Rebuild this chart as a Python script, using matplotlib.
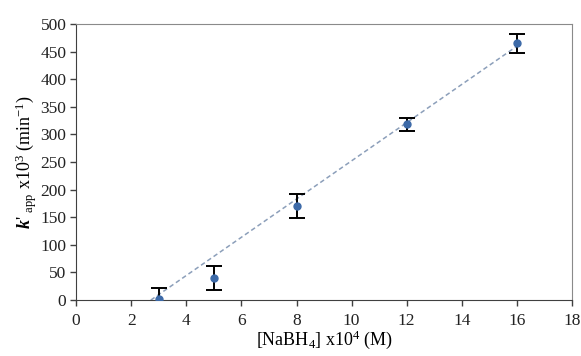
import numpy as np
import matplotlib
matplotlib.use('Agg')
import matplotlib.pyplot as plt

# data
nabh4 = [3, 5, 8, 12, 16]              # [NaBH4] x10^4 (M)
k_app = [2, 40, 170, 318, 465]         # k'app x10^3 (min^-1)
k_err = [20, 22, 22, 12, 17]

# trend line as drawn in the original (slope, intercept)
trend_slope = 34.6
trend_intercept = -93.8

plt.rcParams['font.family'] = ['Liberation Serif', 'DejaVu Serif']
plt.rcParams['mathtext.fontset'] = 'custom'
plt.rcParams['mathtext.rm'] = 'Liberation Serif'
plt.rcParams['mathtext.it'] = 'Liberation Serif:italic:bold'


def make_plot():
    fig = plt.figure(figsize=(5.81, 3.56), dpi=100)
    ax = fig.add_axes([0.131, 0.157, 0.8535, 0.7756])

    # trend line from x-intercept to last point
    x0 = -trend_intercept / trend_slope
    xt = np.array([x0, max(nabh4)])
    ax.plot(xt, trend_slope * xt + trend_intercept, color='#8c9fba',
            linestyle=(0, (3, 2)), linewidth=1.1, zorder=1)

    ax.errorbar(nabh4, k_app, yerr=k_err, fmt='o', color='#3d6aa8',
                markersize=5, ecolor='black', elinewidth=1.4,
                capsize=6, capthick=1.4, zorder=3)

    ax.set_xlim(0, 18)
    ax.set_ylim(0, 500)
    ax.set_xticks(np.arange(0, 19, 2))
    ax.set_yticks(np.arange(0, 501, 50))
    ax.tick_params(direction='out', length=4, width=1, labelsize=12.5,
                   colors='#404040', labelcolor='#222222', pad=3)
    ax.tick_params(axis='x', pad=5)

    for s in ['left', 'bottom']:
        ax.spines[s].set_color('#404040')
    for s in ['top', 'right']:
        ax.spines[s].set_color('#8a8a8a')

    ax.set_xlabel(r'[NaBH$_4$] x10$^4$ (M)', fontsize=13, labelpad=0)
    ax.set_ylabel(r"$k$' $_{\mathrm{app}}$ x10$^3$ (min$^{-1}$)",
                  fontsize=13, labelpad=1)

    fig.savefig('out.png', dpi=100)


if __name__ == '__main__':
    make_plot()
